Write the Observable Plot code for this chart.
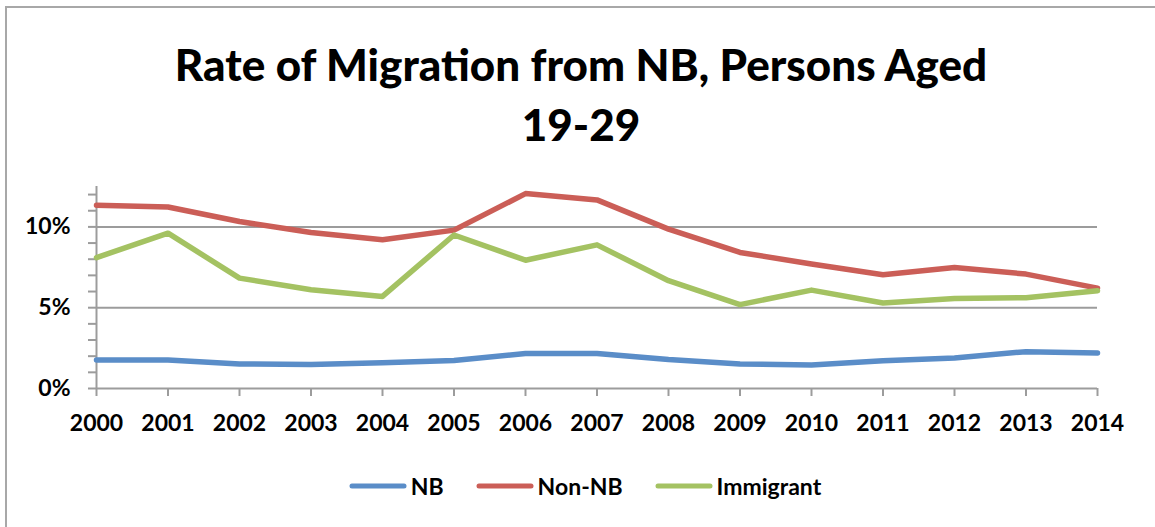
<!DOCTYPE html>
<html>
<head>
<meta charset="utf-8">
<script src="https://cdn.jsdelivr.net/npm/d3@7"></script>
<script src="https://cdn.jsdelivr.net/npm/@observablehq/plot@0.6"></script>
<style>
  html, body { margin: 0; padding: 0; background: #fff; }
  body { width: 1155px; height: 527px; overflow: hidden; position: relative; font-family: Lato, "Open Sans", sans-serif; }
  #frame { position: absolute; left: 5px; top: 6px; width: 1200px; height: 600px; border-left: 2px solid #a8a8a8; border-top: 2px solid #a8a8a8; box-sizing: border-box; pointer-events: none; }
  #title { height: 170px; box-sizing: border-box; padding-top: 34px; padding-left: 7px; text-align: center; font-weight: 900; font-size: 44px; line-height: 60px; color: #000; }
  #chart svg { display: block; }
  #legend { display: flex; justify-content: center; align-items: center; padding-left: 15px; height: 52px; font-weight: bold; font-size: 23px; color: #000; }
  .item { display: flex; align-items: center; margin: 0 16px; }
  .item svg { margin-right: 4px; }
</style>
</head>
<body>
<div id="frame"></div>
<div id="title">Rate of Migration from NB, Persons Aged<br>19-29</div>
<div id="chart"></div>
<div id="legend"></div>
<script>
const years = [2000, 2001, 2002, 2003, 2004, 2005, 2006, 2007, 2008, 2009, 2010, 2011, 2012, 2013, 2014];
const seriesNames = ["NB", "Non-NB", "Immigrant"];
const seriesColors = ["#5a8dc8", "#cb5e57", "#a4c262"];
const nb = [1.77, 1.77, 1.52, 1.48, 1.59, 1.73, 2.16, 2.16, 1.79, 1.52, 1.46, 1.71, 1.89, 2.28, 2.20];
const nonNb = [11.34, 11.23, 10.33, 9.65, 9.20, 9.80, 12.06, 11.67, 9.86, 8.42, 7.70, 7.04, 7.49, 7.08, 6.21];
const immigrant = [8.10, 9.61, 6.83, 6.11, 5.70, 9.50, 7.94, 8.89, 6.67, 5.19, 6.09, 5.29, 5.57, 5.62, 6.05];
const yTicks = [0, 1, 2, 3, 4, 5, 6, 7, 8, 9, 10, 11, 12];
const yLabeled = [0, 5, 10];
const yMax = 12.5;

const seriesValues = [nb, nonNb, immigrant];
const rows = [];
seriesNames.forEach((name, i) => {
  years.forEach((yr, j) => rows.push({series: name, year: yr, value: seriesValues[i][j]}));
});

const gray = "#9c9c9c";
const chart = Plot.plot({
  width: 1155,
  height: 290,
  marginLeft: 96,
  marginRight: 58,
  marginTop: 16,
  marginBottom: 72,
  x: {domain: [years[0], years[years.length - 1]]},
  y: {domain: [0, yMax]},
  color: {domain: seriesNames, range: seriesColors},
  style: {fontFamily: "Lato, 'Open Sans', sans-serif", fontSize: "23px", fontWeight: "bold", color: "#000", background: "transparent", overflow: "visible"},
  marks: [
    Plot.ruleY(yLabeled.filter(d => d > 0), {stroke: gray, strokeWidth: 2}),
    Plot.axisY({ticks: yTicks, tickSize: 8, tickPadding: 18, tickFormat: d => yLabeled.includes(d) ? d + "%" : null, stroke: gray, strokeWidth: 2, fill: "#000", label: null}),
    Plot.axisX({ticks: years, tickSize: 8, tickPadding: 18, tickFormat: d => String(d), stroke: gray, strokeWidth: 2, fill: "#000", label: null}),
    Plot.ruleX([years[0]], {y1: 0, y2: yMax, stroke: gray, strokeWidth: 2}),
    Plot.ruleY([0], {stroke: gray, strokeWidth: 2}),
    Plot.line(rows, {x: "year", y: "value", z: "series", stroke: "series", strokeWidth: 5.5, strokeLinejoin: "round", strokeLinecap: "round"})
  ]
});
document.getElementById("chart").appendChild(chart);

const legend = document.getElementById("legend");
seriesNames.forEach((name, i) => {
  const item = document.createElement("div");
  item.className = "item";
  item.innerHTML = `<svg width="58" height="10"><line x1="3" y1="5" x2="55" y2="5" stroke="${seriesColors[i]}" stroke-width="5" stroke-linecap="round"/></svg><span>${name}</span>`;
  legend.appendChild(item);
});
</script>
</body>
</html>
